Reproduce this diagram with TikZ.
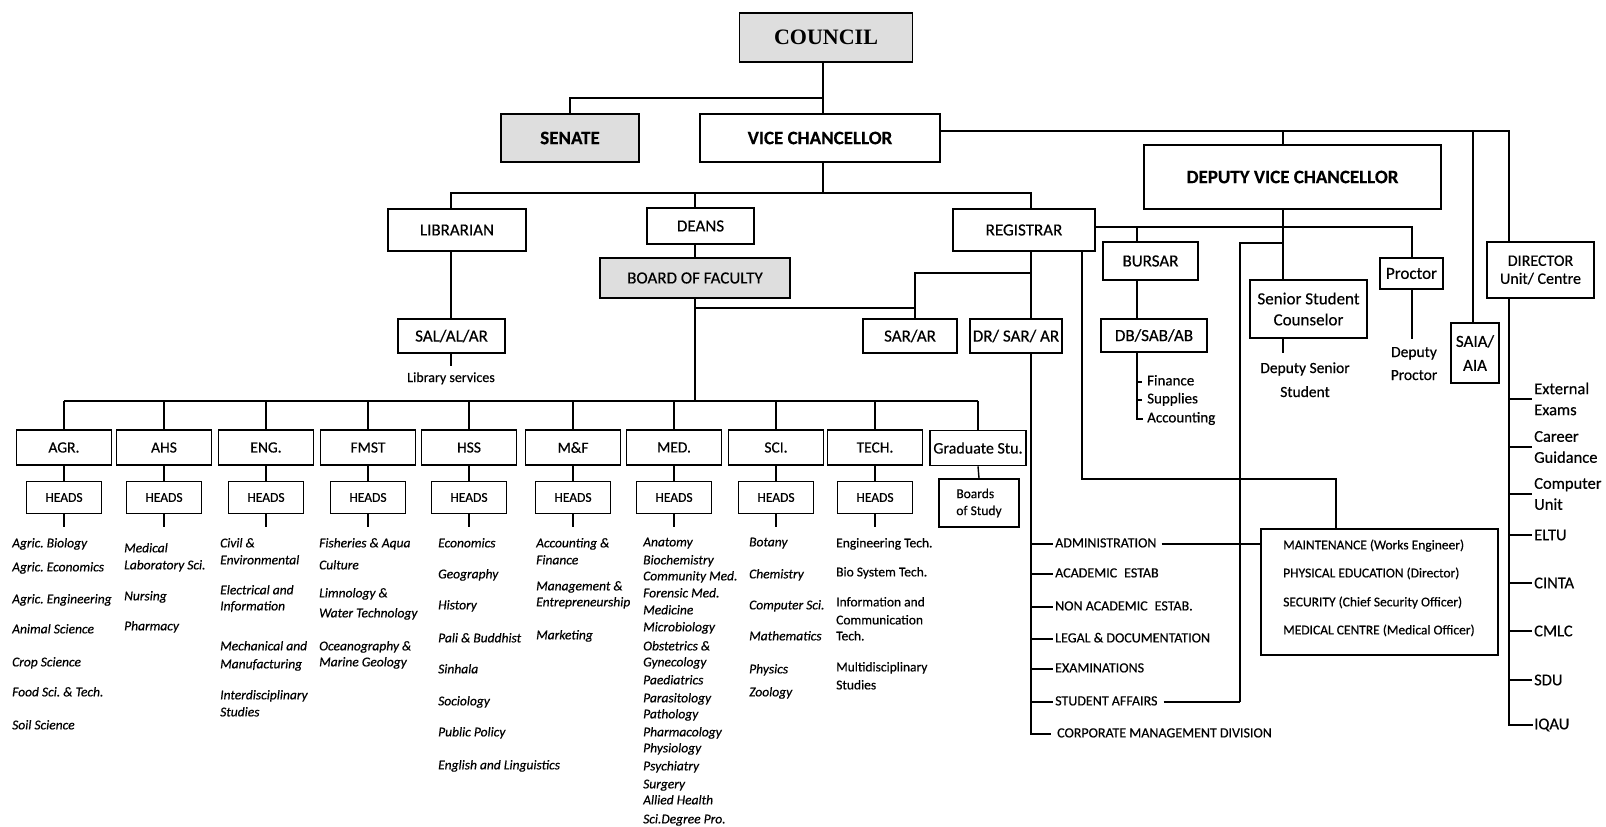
\documentclass[tikz,border=0pt]{standalone}
\usepackage{fontspec}
\setmainfont{Carlito}[FakeBold=0.4]
\newfontfamily\councilfont{Liberation Serif}
\usetikzlibrary{calc}
\definecolor{boxgray}{RGB}{222,222,222}
\newcommand{\fsz}[2]{\fontsize{#1}{#2}\selectfont}
\frenchspacing
\tikzset{
  ln/.style={line width=1.4pt},
  bx/.style={draw, line width=1.6pt, inner sep=0pt, align=center},
  gbx/.style={bx, fill=boxgray},
  midlbl/.style={font=\fsz{17}{21}},
  bigbold/.style={font=\bfseries\fsz{19}{23}},
  facbox/.style={bx, minimum width=95pt, minimum height=35pt, font=\fsz{15.5}{18}},
  headbox/.style={bx, minimum width=75pt, minimum height=32pt, font=\fsz{13.5}{16}},
  itm/.style={inner sep=0pt, anchor=west, font=\fsz{13.5}{16}\itshape, text height=9.5pt, text depth=2.7pt},
  upitm/.style={itm, font=\fsz{13.5}{16}},
  regitm/.style={itm, font=\fsz{14}{16}},
  diritm/.style={inner sep=0pt, anchor=west, align=left, font=\fsz{16.5}{21}},
  ctr/.style={inner sep=0pt, font=\fsz{15.5}{18}, text height=11pt, text depth=3pt},
}
\newcommand{\itemlist}[4]{%
  \foreach \yy/\itxt [count=\ii] in {#4} \node[#3] (#1\ii) at (#2,\yy) {\itxt};}
\begin{document}
\begin{tikzpicture}[x=1pt,y=-1pt]
\useasboundingbox[fill=white] (0,0) rectangle (1606,827);

% column / level coordinates
\coordinate (xvc) at (823,0);
\coordinate (xlib) at (451,0);
\coordinate (xbof) at (695,0);
\coordinate (xsar) at (915,0);
\coordinate (xreg1) at (1031,0);
\coordinate (xreg2) at (1082,0);
\coordinate (xburs) at (1137,0);
\coordinate (xdvcl) at (1240,0);
\coordinate (xdvc) at (1283,0);
\coordinate (xmt) at (1336,0);
\coordinate (xproc) at (1412,0);
\coordinate (xsaia) at (1473,0);
\coordinate (xdir) at (1509,0);
\coordinate (ys) at (0,98);
\coordinate (yb) at (0,193);
\coordinate (yd) at (0,243);
\coordinate (ysar2) at (0,273);
\coordinate (ysar1) at (0,308);
\coordinate (fb) at (0,401);
\coordinate (ym) at (0,479);

% ---------- top boxes ----------
\node[gbx, minimum width=173pt, minimum height=49pt, font=\councilfont\bfseries\fsz{22}{26}] (council) at (826,37.5) {COUNCIL};
\node[gbx, bigbold, minimum width=138pt, minimum height=48pt] (senate) at (570,138) {SENATE};
\node[bx, bigbold, minimum width=240pt, minimum height=48pt] (vc) at (820,138) {VICE CHANCELLOR};
\node[bx, bigbold, minimum width=297pt, minimum height=64pt] (dvc) at (1292.5,177) {DEPUTY VICE CHANCELLOR};

% ---------- middle boxes ----------
\node[bx, midlbl, minimum width=138pt, minimum height=42pt] (librarian) at (457,230) {LIBRARIAN};
\node[bx, midlbl, minimum width=107pt, minimum height=36pt] (deans) at (700.5,226) {DEANS};
\node[gbx, midlbl, minimum width=190pt, minimum height=40pt] (bof) at (695,278) {BOARD OF FACULTY};
\node[bx, midlbl, minimum width=142pt, minimum height=42pt] (registrar) at (1024,230) {REGISTRAR};
\node[bx, midlbl, minimum width=107pt, minimum height=34pt] (salalar) at (451.5,336) {SAL/AL/AR};
\node[bx, midlbl, minimum width=94pt, minimum height=34pt] (sarar) at (910,336) {SAR/AR};
\node[bx, midlbl, minimum width=92pt, minimum height=34pt] (drsar) at (1016,336) {DR/ SAR/ AR};
\node[bx, midlbl, minimum width=95pt, minimum height=38pt] (bursar) at (1150.5,261) {BURSAR};
\node[bx, midlbl, minimum width=106pt, minimum height=33pt] (dbsab) at (1154,335.5) {DB/SAB/AB};
\node[bx, midlbl, minimum width=117pt, minimum height=58pt] (ssc) at (1308.5,309) {Senior Student\\Counselor};
\node[bx, midlbl, minimum width=63pt, minimum height=31pt] (proctor) at (1411.5,273.5) {Proctor};
\node[bx, font=\fsz{17}{24}, minimum width=48pt, minimum height=60pt] (saia) at (1475,353) {SAIA/\\AIA};
\node[bx, font=\fsz{16}{18}, minimum width=107pt, minimum height=56pt] (director) at (1540.5,270) {DIRECTOR\\Unit/ Centre};
\node[bx, minimum width=237pt, minimum height=126pt] (maint) at (1379.5,592) {};

% ---------- small texts ----------
\node[ctr, font=\fsz{14}{17}] (libserv) at (451,378) {Library services};
\node[ctr] (dss1) at (1305,369) {Deputy Senior};
\node[ctr] (dss2) at (1305,393) {Student};
\node[ctr] (dp1) at (1414,353) {Deputy};
\node[ctr] (dp2) at (1414,376) {Proctor};
\node[upitm, font=\fsz{15}{18}] (fin) at (1147,382) {Finance};
\node[upitm, font=\fsz{15}{18}] (sup) at (1147,400) {Supplies};
\node[upitm, font=\fsz{15}{18}] (acc) at (1147,419) {Accounting};

% registrar list
\itemlist{ra}{1055}{regitm}{544/ADMINISTRATION, 574/ACADEMIC\enspace ESTAB, 607/NON ACADEMIC\enspace ESTAB., 639/LEGAL \& DOCUMENTATION, 669/EXAMINATIONS, 702/STUDENT AFFAIRS}
\node[regitm] (rcorp) at (1057,734) {CORPORATE MANAGEMENT DIVISION};

% maintenance box contents
\itemlist{mt}{1283}{upitm}{546/MAINTENANCE (Works Engineer), 574/PHYSICAL EDUCATION (Director), 603/SECURITY (Chief Security Officer), 631/MEDICAL CENTRE (Medical Officer)}

% director list
\node[diritm] (dl1) at (1534,399) {External\\Exams};
\node[diritm] (dl2) at (1534,447) {Career\\Guidance};
\node[diritm] (dl3) at (1534,494) {Computer\\Unit};
\node[diritm] (dl4) at (1534,535) {ELTU};
\node[diritm] (dl5) at (1534,583) {CINTA};
\node[diritm] (dl6) at (1534,631) {CMLC};
\node[diritm] (dl7) at (1534,680) {SDU};
\node[diritm] (dl8) at (1534,725) {IQAU};

% ---------- faculties ----------
\foreach \fn/\fx/\fl in {agr/64/AGR., ahs/164/AHS, eng/266/ENG., fmst/368/FMST, hss/469/HSS, mf/573/M\&F, med/674/MED., sci/776/SCI., tech/875/TECH.}{
  \node[facbox] (\fn) at (\fx,447.5) {\fl};
  \node[headbox] (\fn-h) at (\fx,497.5) {HEADS};
  \draw[ln] (\fn.north |- fb) -- (\fn.north);
  \draw[ln] (\fn.south) -- (\fn-h.north);
  \draw[ln] (\fn-h.south) -- ++(0,13);
}
\node[facbox, font=\fsz{16}{18}, minimum width=96pt] (grad) at (978,448) {Graduate Stu.};
\node[bx, font=\fsz{13.5}{17}, align=left, minimum width=80pt, minimum height=48pt] (bos) at (979,503) {Boards\\of Study};
\draw[ln] (grad.north |- fb) -- (grad.north);
\draw[ln] (grad.south) -- (bos.north);
\draw[ln] (agr.north |- fb) -- (grad.north |- fb);

\itemlist{la}{12}{itm}{544/Agric. Biology, 568/Agric. Economics, 600/Agric. Engineering, 630/Animal Science, 663/Crop Science, 693/Food Sci. \& Tech., 726/Soil Science}
\itemlist{lb}{124}{itm}{549/Medical, 566/Laboratory Sci., 597/Nursing, 627/Pharmacy}
\itemlist{lc}{220}{itm}{544/Civil \&, 561/Environmental, 591/Electrical and, 607/Information, 647/Mechanical and, 665/Manufacturing, 696/Interdisciplinary, 713/Studies}
\itemlist{ld}{319}{itm}{544/Fisheries \& Aqua, 566/Culture, 594/Limnology \&, 614/Water Technology, 647/Oceanography \&, 663/Marine Geology}
\itemlist{le}{438}{itm}{544/Economics, 575/Geography, 606/History, 639/Pali \& Buddhist, 670/Sinhala, 702/Sociology, 733/Public Policy, 766/English and Linguistics}
\itemlist{lf}{536}{itm}{544/Accounting \&, 561/Finance, 587/Management \&, 603/Entrepreneurship, 636/Marketing}
\itemlist{lg}{643}{itm}{543/Anatomy, 561/Biochemistry, 577/Community Med., 594/Forensic Med., 611/Medicine, 628/Microbiology, 647/Obstetrics \&, 663/Gynecology, 681/Paediatrics, 699/Parasitology, 715/Pathology, 733/Pharmacology, 749/Physiology, 767/Psychiatry, 785/Surgery, 801/Allied Health, 820/Sci.Degree Pro.}
\itemlist{lh}{749}{itm}{543/Botany, 575/Chemistry, 606/Computer Sci., 637/Mathematics, 670/Physics, 693/Zoology}
\itemlist{li}{836}{upitm}{544/Engineering Tech., 573/Bio System Tech., 603/Information and, 621/Communication, 637/Tech., 668/Multidisciplinary, 686/Studies}

% ---------- connectors ----------
\draw[ln] (council.south -| xvc) -- (vc.north -| xvc);
\draw[ln] (xvc |- ys) -| (senate.north);
\coordinate (vcr) at ([yshift=7pt]vc.east);
\draw[ln] (vcr) -| (director.north -| xdir);
\draw[ln] (vcr -| xsaia) -- (saia.north -| xsaia);
\draw[ln] (vcr -| xdvc) -- (dvc.north -| xdvc);

\draw[ln] (vc.south -| xvc) -- (xvc |- yb);
\draw[ln] (librarian.north -| xlib) -- (xlib |- yb) -- (xreg1 |- yb) -- (registrar.north -| xreg1);
\draw[ln] (deans.north -| xbof) -- (xbof |- yb);
\draw[ln] (librarian.south -| xlib) -- (salalar.north -| xlib);
\draw[ln] (salalar.south -| xlib) -- ++(0,12);
\draw[ln] (deans.south -| xbof) -- (bof.north -| xbof);
\draw[ln] (bof.south -| xbof) -- (xbof |- fb);
\draw[ln] (xbof |- ysar1) -| (sarar.north -| xsar);
\draw[ln] (registrar.south -| xreg1) -- (drsar.north -| xreg1);
\draw[ln] (xreg1 |- ysar2) -| (sarar.north -| xsar);

% registrar list
\draw[ln] (drsar.south -| xreg1) |- ([xshift=-6pt]rcorp.west);
\foreach \i in {1,...,6} \draw[ln] (ra\i.west -| xreg1) -- ([xshift=-2pt]ra\i.west);
\draw[ln] ([xshift=5pt]ra1.east) -- (maint.west |- ra1.east);
\draw[ln] ([xshift=6pt]ra6.east) -- (xdvcl |- ra6.east);
\draw[ln] (registrar.south -| xreg2) |- (xmt |- ym) -- (maint.north -| xmt);

% registrar right branch
\coordinate (regr) at ([yshift=3pt]registrar.east);
\draw[ln] (regr) -| (proctor.north -| xproc);
\draw[ln] (regr -| xburs) -- (bursar.north -| xburs);
\draw[ln] (bursar.south -| xburs) -- (dbsab.north -| xburs);
\draw[ln] (dbsab.south -| xburs) |- ([xshift=-4pt]acc.west);
\draw[ln] (fin.west -| xburs) -- ([xshift=-5pt]fin.west);
\draw[ln] (sup.west -| xburs) -- ([xshift=-5pt]sup.west);

% DVC branch
\draw[ln] (dvc.south -| xdvc) -- (ssc.north -| xdvc);
\draw[ln] (xdvc |- yd) -| (xdvcl |- ra6.east);
\draw[ln] (ssc.south -| xdvc) -- ++(0,14);
\draw[ln] (proctor.south -| xproc) -- ++(0,49);

% director list
\draw[ln] (director.south -| xdir) |- ([xshift=-1pt]dl8.west);
\foreach \i in {1,...,7} \draw[ln] (dl\i.west -| xdir) -- ([xshift=-2pt]dl\i.west);
\end{tikzpicture}
\end{document}
